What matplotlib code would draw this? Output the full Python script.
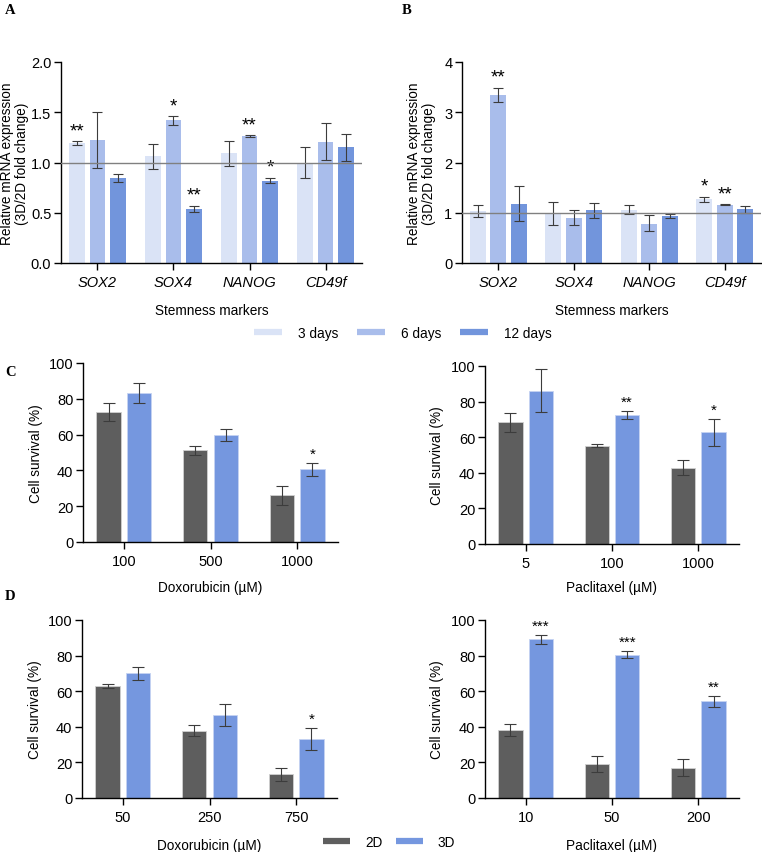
import matplotlib
matplotlib.use("Agg")
import matplotlib.pyplot as plt
import numpy as np
from matplotlib.lines import Line2D

plt.rcParams["font.family"] = ["Liberation Sans", "DejaVu Sans"]
plt.rcParams["font.size"] = 10

# ---- data ----
markers = ["SOX2", "SOX4", "NANOG", "CD49f"]
days = ["3 days", "6 days", "12 days"]

# panel A: mean, low, high per day
a_mean = [[1.19, 1.06, 1.09, 1.00],
          [1.22, 1.42, 1.26, 1.20],
          [0.85, 0.54, 0.82, 1.15]]
a_low = [[1.17, 0.94, 0.97, 0.85],
         [0.95, 1.37, 1.25, 1.02],
         [0.81, 0.51, 0.80, 1.01]]
a_high = [[1.21, 1.18, 1.21, 1.15],
          [1.50, 1.46, 1.27, 1.39],
          [0.89, 0.57, 0.85, 1.28]]
a_stars = [["**", "", "", ""],
           ["", "*", "**", ""],
           ["", "**", "*", ""]]

# panel B
b_mean = [[1.03, 0.98, 1.05, 1.27],
          [3.35, 0.90, 0.78, 1.16],
          [1.18, 1.05, 0.93, 1.07]]
b_low = [[0.92, 0.75, 0.97, 1.22],
         [3.20, 0.75, 0.63, 1.15],
         [0.83, 0.90, 0.89, 1.00]]
b_high = [[1.16, 1.22, 1.15, 1.32],
          [3.49, 1.05, 0.95, 1.17],
          [1.53, 1.20, 0.97, 1.14]]
b_stars = [["", "", "", "*"],
           ["**", "", "", "**"],
           ["", "", "", ""]]

# panels C and D: 2D vs 3D cell survival
c_dox_conc = ["100", "500", "1000"]
c_dox_2d = [72.7, 51.2, 26.0]
c_dox_2d_err = [5.0, 2.6, 5.2]
c_dox_3d = [83.2, 59.8, 40.6]
c_dox_3d_err = [5.4, 3.2, 3.5]
c_dox_stars = ["", "", "*"]

c_pac_conc = ["5", "100", "1000"]
c_pac_2d = [68.4, 55.2, 42.9]
c_pac_2d_err = [5.3, 0.7, 4.3]
c_pac_3d = [86.1, 72.5, 62.7]
c_pac_3d_err = [12.0, 2.5, 7.4]
c_pac_stars = ["", "**", "*"]

d_dox_conc = ["50", "250", "750"]
d_dox_2d = [63.1, 37.9, 13.4]
d_dox_2d_err = [1.2, 2.9, 3.7]
d_dox_3d = [70.1, 46.8, 33.2]
d_dox_3d_err = [3.6, 6.2, 6.3]
d_dox_stars = ["", "", "*"]

d_pac_conc = ["10", "50", "200"]
d_pac_2d = [38.1, 19.2, 17.0]
d_pac_2d_err = [3.5, 4.6, 4.7]
d_pac_3d = [89.2, 80.6, 54.3]
d_pac_3d_err = [2.5, 1.8, 3.1]
d_pac_stars = ["***", "***", "**"]

DAY_COLORS = ["#dae3f6", "#a9bdeb", "#7295dc"]
COL_2D = "#5e5e5e"
COL_3D = "#7597df"
ERR_COL = "#3c3c3c"

TICK_FS = 10.5
LABEL_FS = 9.8

W, H = 762, 853
fig = plt.figure(figsize=(W / 100, H / 100), dpi=100)


def px_axes(left, right, top, bottom):
    return fig.add_axes([left / W, 1 - bottom / H, (right - left) / W, (bottom - top) / H])


def style_axes(ax):
    ax.spines["top"].set_visible(False)
    ax.spines["right"].set_visible(False)
    ax.spines["left"].set_linewidth(1.0)
    ax.spines["bottom"].set_linewidth(1.0)
    ax.tick_params(axis="y", length=5, width=1.0, pad=2, labelsize=TICK_FS)
    ax.tick_params(axis="x", length=5, width=1.0, pad=4, labelsize=TICK_FS)


def mrna_panel(ax, mean, low, high, stars, ymax, yticks, yticklabels):
    x = np.arange(len(markers))
    for i in range(3):
        xs = x + (i - 1) * 0.27
        m = np.array(mean[i])
        lo = m - np.array(low[i])
        hi = np.array(high[i]) - m
        ax.bar(xs, m, width=0.21, color=DAY_COLORS[i], zorder=2)
        ax.errorbar(xs, m, yerr=[lo, hi], fmt="none", ecolor=ERR_COL,
                    elinewidth=0.8, capsize=3.5, capthick=0.8, zorder=3)
        for j, s in enumerate(stars[i]):
            if s:
                ax.annotate(s, (xs[j], high[i][j]), xytext=(0, 1.5),
                            textcoords="offset points", ha="center",
                            va="bottom", fontsize=13.5)
    ax.axhline(1.0, color="#808080", lw=1.0, zorder=4)
    style_axes(ax)
    ax.set_xlim(-0.48, 3.48)
    ax.set_ylim(0, ymax)
    ax.set_yticks(yticks)
    ax.set_yticklabels(yticklabels)
    ax.set_xticks(x)
    ax.set_xticklabels(markers, fontstyle="italic")
    ax.set_xlabel("Stemness markers", fontsize=LABEL_FS)
    ax.set_ylabel("Relative mRNA expression\n(3D/2D fold change)",
                  fontsize=LABEL_FS, linespacing=1.1)


def survival_panel(ax, conc, v2d, e2d, v3d, e3d, stars, xlabel, xlab_y, ylab_x):
    x = np.arange(len(conc))
    ax.bar(x - 0.175, v2d, width=0.28, color=COL_2D,
           edgecolor="#d0d0d0", linewidth=0.6, zorder=2)
    ax.bar(x + 0.175, v3d, width=0.28, color=COL_3D,
           edgecolor="#c5d3f2", linewidth=0.6, zorder=2)
    ax.errorbar(x - 0.175, v2d, yerr=e2d, fmt="none", ecolor=ERR_COL,
                elinewidth=0.8, capsize=4.5, capthick=0.8, zorder=3)
    ax.errorbar(x + 0.175, v3d, yerr=e3d, fmt="none", ecolor=ERR_COL,
                elinewidth=0.8, capsize=4.5, capthick=0.8, zorder=3)
    for j, s in enumerate(stars):
        if s:
            ax.annotate(s, (x[j] + 0.175, v3d[j] + e3d[j]), xytext=(0, 1.5),
                        textcoords="offset points", ha="center",
                        va="bottom", fontsize=11)
    style_axes(ax)
    ax.set_xlim(-0.47, 2.47)
    ax.set_ylim(0, 100)
    ax.set_yticks(np.arange(0, 101, 20))
    ax.set_xticks(x)
    ax.set_xticklabels(conc)
    ax.set_xlabel(xlabel, fontsize=LABEL_FS)
    ax.set_ylabel("Cell survival (%)", fontsize=LABEL_FS)
    ax.xaxis.set_label_coords(0.5, xlab_y)
    ax.yaxis.set_label_coords(ylab_x, 0.5)


# A
ax_a = px_axes(61, 362, 63, 264)
mrna_panel(ax_a, a_mean, a_low, a_high, a_stars, 2.0,
           [0, 0.5, 1.0, 1.5, 2.0], ["0.0", "0.5", "1.0", "1.5", "2.0"])
ax_a.xaxis.set_label_coords(0.5, -0.2)
ax_a.yaxis.set_label_coords(-0.106, 0.5)

# B
ax_b = px_axes(462, 761, 63, 264)
mrna_panel(ax_b, b_mean, b_low, b_high, b_stars, 4,
           [0, 1, 2, 3, 4], ["0", "1", "2", "3", "4"])
ax_b.xaxis.set_label_coords(0.5, -0.2)
ax_b.yaxis.set_label_coords(-0.087, 0.5)

# C
ax_c1 = px_axes(83, 338, 364, 543)
survival_panel(ax_c1, c_dox_conc, c_dox_2d, c_dox_2d_err, c_dox_3d,
               c_dox_3d_err, c_dox_stars, "Doxorubicin (µM)", -0.21, -0.157)
ax_c2 = px_axes(485, 739, 367, 545)
survival_panel(ax_c2, c_pac_conc, c_pac_2d, c_pac_2d_err, c_pac_3d,
               c_pac_3d_err, c_pac_stars, "Paclitaxel (µM)", -0.2, -0.161)

# D
ax_d1 = px_axes(82, 337, 621, 799)
survival_panel(ax_d1, d_dox_conc, d_dox_2d, d_dox_2d_err, d_dox_3d,
               d_dox_3d_err, d_dox_stars, "Doxorubicin (µM)", -0.225, -0.157)
ax_d2 = px_axes(485, 739, 621, 799)
survival_panel(ax_d2, d_pac_conc, d_pac_2d, d_pac_2d_err, d_pac_3d,
               d_pac_3d_err, d_pac_stars, "Paclitaxel (µM)", -0.225, -0.161)

# legends
day_handles = [Line2D([], [], color=c, lw=4.5, solid_capstyle="butt")
               for c in DAY_COLORS]
fig.legend(day_handles, days, ncol=3, loc="center",
           bbox_to_anchor=(403 / W, 1 - 334 / H), frameon=False,
           handlelength=2.0, handletextpad=1.2, columnspacing=1.4,
           fontsize=LABEL_FS)
cond_handles = [Line2D([], [], color=COL_2D, lw=4.5, solid_capstyle="butt"),
                Line2D([], [], color=COL_3D, lw=4.5, solid_capstyle="butt")]
fig.legend(cond_handles, ["2D", "3D"], ncol=2, loc="center",
           bbox_to_anchor=(389 / W, 1 - 843 / H), frameon=False,
           handlelength=2.0, handletextpad=1.1, columnspacing=1.0,
           fontsize=LABEL_FS)

# panel letters
for letter, (px, py) in {"A": (5, 10), "B": (402, 10),
                         "C": (5, 373), "D": (5, 597)}.items():
    fig.text(px / W, 1 - py / H, letter, family="Liberation Serif",
             fontweight="bold", fontsize=10.5, ha="left", va="center")

fig.savefig("out.png", dpi=100)
